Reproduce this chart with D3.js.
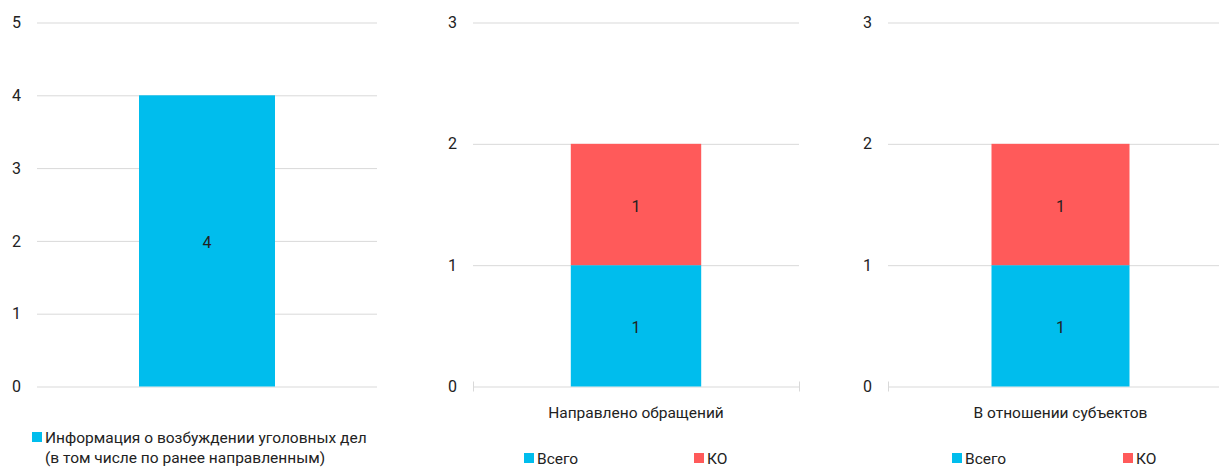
<!DOCTYPE html>
<html>
<head>
<meta charset="utf-8">
<script src="https://cdn.jsdelivr.net/npm/d3@7"></script>
<style>
  html, body { margin: 0; padding: 0; background: #ffffff; }
  svg { display: block; }
  text { font-family: Roboto, "Open Sans", sans-serif; fill: #222222; }
</style>
</head>
<body>
<svg id="chart" width="1219" height="468"></svg>
<script>
// ---- data ----
const panel1Series = ["Информация о возбуждении уголовных дел", "(в том числе по ранее направленным)"];
const panel1Categories = [""];
const panel1Values = [4];
const panel1Ticks = [0, 1, 2, 3, 4, 5];

const stackCategories = ["Направлено обращений", "В отношении субъектов"];
const seriesNames = ["Всего", "КО"];
const vsegoValues = [1, 1];
const koValues = [1, 1];
const stackTicks = [0, 1, 2, 3];

const colors = ["#00BDED", "#FF5A5A"];

// ---- layout ----
const svg = d3.select("#chart");
const yRange = [386.5, 22.5];
const numSize = 16;
const textSize = 15.5;

function gridAxis(g, x, y, ticks) {
  const [x0, x1] = x.range();
  const ax = g.append("g")
    .attr("transform", `translate(${x0},0)`)
    .call(d3.axisLeft(y).tickValues(ticks).tickSize(-(x1 - x0)).tickPadding(16).tickFormat(d3.format("d")));
  ax.select(".domain").remove();
  ax.selectAll(".tick line").attr("stroke", "#d9d9d9").attr("stroke-width", 1);
  ax.selectAll(".tick text").attr("font-size", numSize).attr("fill", "#222")
    .attr("font-family", "Roboto, sans-serif");
}

// Panel 1
(function () {
  const g = svg.append("g");
  const x = d3.scaleBand().domain(panel1Categories).range([37, 377]).paddingInner(0).paddingOuter(0.75);
  const y = d3.scaleLinear().domain([0, 5]).range(yRange);
  gridAxis(g, x, y, panel1Ticks);
  g.selectAll("rect.bar").data(panel1Values).join("rect")
    .attr("class", "bar")
    .attr("x", (d, i) => x(panel1Categories[i]))
    .attr("width", x.bandwidth())
    .attr("y", d => y(d))
    .attr("height", d => y(0) - y(d))
    .attr("fill", colors[0]);
  g.selectAll("text.val").data(panel1Values).join("text")
    .attr("class", "val")
    .attr("x", (d, i) => x(panel1Categories[i]) + x.bandwidth() / 2)
    .attr("y", d => (y(0) + y(d)) / 2)
    .attr("dy", "0.45em")
    .attr("text-anchor", "middle")
    .attr("font-size", numSize)
    .text(d => d);
  // legend
  g.append("rect").attr("x", 32).attr("y", 432).attr("width", 10).attr("height", 10).attr("fill", colors[0]);
  g.selectAll("text.leg").data(panel1Series).join("text")
    .attr("class", "leg")
    .attr("x", 45)
    .attr("y", (d, i) => 437 + i * 20)
    .attr("dy", "0.36em")
    .attr("font-size", textSize)
    .text(d => d);
})();

// Stacked panels
const stackPanels = [
  { xr: [473, 799], legend: [524, 694] },
  { xr: [888, 1233], legend: [952, 1123] }
];

stackPanels.forEach((p, pi) => {
  const g = svg.append("g");
  const cat = [stackCategories[pi]];
  const x = d3.scaleBand().domain(cat).range(p.xr).paddingInner(0).paddingOuter(0.75);
  const y = d3.scaleLinear().domain([0, 3]).range(yRange);
  gridAxis(g, x, y, stackTicks);

  const row = { cat: stackCategories[pi], "Всего": vsegoValues[pi], "КО": koValues[pi] };
  const stacked = d3.stack().keys(seriesNames)([row]);

  stacked.forEach((layer, li) => {
    layer.forEach(seg => {
      g.append("rect")
        .attr("x", x(seg.data.cat))
        .attr("width", x.bandwidth())
        .attr("y", y(seg[1]))
        .attr("height", y(seg[0]) - y(seg[1]))
        .attr("fill", colors[li]);
      g.append("text")
        .attr("x", x(seg.data.cat) + x.bandwidth() / 2)
        .attr("y", (y(seg[0]) + y(seg[1])) / 2)
        .attr("dy", "0.45em")
        .attr("text-anchor", "middle")
        .attr("font-size", numSize)
        .text(seg[1] - seg[0]);
    });
  });

  // end ticks on the category axis
  const y0 = y(0);
  g.selectAll("line.endtick").data(x.range()).join("line")
    .attr("class", "endtick")
    .attr("x1", d => d + 0.5).attr("x2", d => d + 0.5)
    .attr("y1", y0 - 5).attr("y2", y0 + 5)
    .attr("stroke", "#d9d9d9").attr("stroke-width", 1);

  // category label
  g.append("text")
    .attr("x", x(cat[0]) + x.bandwidth() / 2)
    .attr("y", 412)
    .attr("dy", "0.36em")
    .attr("text-anchor", "middle")
    .attr("font-size", textSize)
    .text(cat[0]);

  // legend
  seriesNames.forEach((s, si) => {
    g.append("rect").attr("x", p.legend[si]).attr("y", 453).attr("width", 10).attr("height", 10).attr("fill", colors[si]);
    g.append("text").attr("x", p.legend[si] + 13).attr("y", 458).attr("dy", "0.36em")
      .attr("font-size", textSize).text(s);
  });
});
</script>
</body>
</html>
